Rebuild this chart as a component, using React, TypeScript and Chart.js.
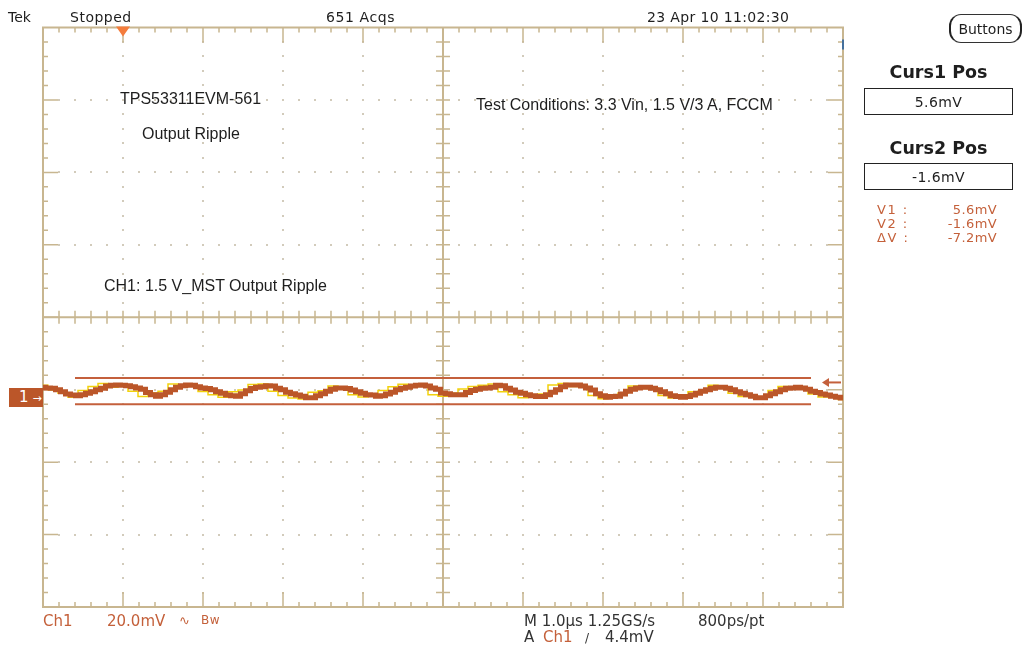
import React, { useEffect, useRef } from 'react';
import { Chart, registerables } from 'chart.js';

Chart.register(...registerables);

// ---- data ----
const SAMPLE_STEP_US = 0.0625; // 5 px per sample at 1 µs/div
const RIPPLE_MV = [
  3.1, 2.9, 2.8, 2.4, 1.8, 1.2, 0.9, 0.7, 1.0, 1.4, 1.8, 2.4, 2.8, 3.4, 3.6, 3.7, 3.6, 3.5, 3.2, 2.9,
  2.5, 1.6, 1.0, 0.6, 1.0, 1.7, 2.4, 3.1, 3.5, 3.7, 3.6, 3.2, 2.9, 2.7, 2.4, 1.8, 1.4, 0.9, 0.7, 0.6,
  1.3, 2.1, 2.7, 3.1, 3.2, 3.5, 3.4, 2.8, 2.4, 1.7, 1.3, 0.9, 0.6, 0.2, 0.2, 0.7, 1.3, 2.0, 2.5, 2.9,
  2.9, 2.7, 2.3, 1.8, 1.4, 1.0, 0.9, 0.6, 0.7, 1.2, 1.7, 2.4, 2.8, 3.1, 3.4, 3.6, 3.7, 3.4, 2.9, 2.5,
  1.5, 1.3, 1.0, 1.0, 1.0, 1.6, 2.2, 2.5, 2.8, 2.9, 3.1, 3.6, 3.5, 2.8, 2.3, 1.7, 1.4, 1.0, 0.7, 0.5,
  0.5, 1.0, 1.7, 2.4, 3.2, 3.7, 3.7, 3.7, 3.4, 2.9, 2.3, 1.3, 0.7, 0.3, 0.5, 0.6, 1.2, 2.0, 2.5, 2.9,
  3.1, 3.1, 2.8, 2.4, 1.8, 1.3, 0.7, 0.5, 0.3, 0.5, 0.9, 1.4, 2.0, 2.4, 2.8, 3.1, 3.1, 2.8, 2.4, 1.8,
  1.4, 1.0, 0.6, 0.2, 0.2, 0.7, 1.3, 1.8, 2.4, 2.8, 2.9, 3.1, 2.9, 2.5, 2.0, 1.6, 1.2, 0.9, 0.6, 0.3,
  0.1,
];
const NOISE_STEP_US = 0.125;
const NOISE_MV = [
  3.6, 2.4, 1.4, 0.3, 2.2, 3.3, 4.1, 3.1, 3.7, 2.0, 0.5, 1.5, 2.0, 4.0, 3.2, 3.4, 1.9, 1.0, 0.3, 1.8,
  2.3, 3.8, 4.0, 2.0, 0.8, 0.1, -0.2, 1.7, 2.1, 3.4, 2.8, 1.0, 0.4, 1.1, 2.2, 3.2, 3.9, 3.3, 3.4, 1.0,
  0.6, 1.4, 2.6, 3.3, 3.6, 4.0, 1.8, 1.0, 0.2, 0.9, 1.2, 3.7, 4.1, 3.3, 3.3, 0.8, -0.1, 1.0, 1.5, 3.4,
  2.7, 2.9, 0.8, 0.1, 0.9, 1.8, 2.0, 3.6, 3.2, 1.4, 0.5, 0.6, 0.3, 2.2, 3.3, 2.7, 2.9, 1.2, 0.4, 0.7,
  -0.3,
];
const CURSOR1_MV = 5.6;
const CURSOR2_MV = -1.6;
const CURSOR_SPAN_US = [0.4, 9.6];
const TRIGGER_LEVEL_MV = 4.4;
const TRIGGER_POS_US = 1;
const X_DIVS_US = [0, 1, 2, 3, 4, 5, 6, 7, 8, 9, 10];
const Y_GRID_MV = [-57.6, -37.6, -17.6, 2.4, 22.4, 42.4, 62.4, 82.4, 102.4];

const READOUT_LABELS = ['V1 :', 'V2 :', 'ΔV :'];
const READOUT_VALUES = ['5.6mV', '-1.6mV', '-7.2mV'];

// ---- styles ----
const TRACE = '#bb5629';
const NOISE = '#f2d20c';
const CURSOR = '#c4603c';
const GRAT = '#c8b690';
const DOT = '#d2cbbb';
const TRIG_MARK = '#f47c3c';
const ORANGE_TXT = '#c4603a';
const SCOPE_FONT = '"DejaVu Sans", sans-serif';
const NOTE_FONT = '"Liberation Sans", Arial, sans-serif';

const graticulePlugin = {
  id: 'graticule',
  beforeDatasetsDraw(chart: any) {
    const { ctx, chartArea: a, scales } = chart;
    const xs = scales.x;
    const ys = scales.y;
    const xp = X_DIVS_US.map((v) => xs.getPixelForValue(v));
    const yp = Y_GRID_MV.map((v) => ys.getPixelForValue(v));
    const nx = xp.length - 1;
    const ny = yp.length - 1;
    const cx = xp[nx / 2];
    const cy = yp[ny / 2];
    ctx.save();
    // dotted grid
    ctx.fillStyle = DOT;
    for (let i = 1; i < nx; i++) {
      if (i === nx / 2) continue;
      for (let j = 0; j < ny; j++) {
        for (let k = 0; k < 5; k++) {
          const y = yp[j] + ((yp[j + 1] - yp[j]) * k) / 5;
          if (j === 0 && k === 0) continue;
          ctx.fillRect(Math.round(xp[i]) - 1, Math.round(y) - 1, 2, 2);
        }
      }
    }
    for (let j = 1; j < ny; j++) {
      if (j === ny / 2) continue;
      for (let i = 0; i < nx; i++) {
        for (let k = 0; k < 5; k++) {
          const x = xp[i] + ((xp[i + 1] - xp[i]) * k) / 5;
          if (i === 0 && k === 0) continue;
          ctx.fillRect(Math.round(x) - 1, Math.round(yp[j]) - 1, 2, 2);
        }
      }
    }
    ctx.strokeStyle = GRAT;
    // border
    ctx.lineWidth = 2;
    ctx.strokeRect(a.left, a.top, a.right - a.left, a.bottom - a.top);
    // center lines
    ctx.beginPath();
    ctx.moveTo(cx, a.top);
    ctx.lineTo(cx, a.bottom);
    ctx.moveTo(a.left, cy);
    ctx.lineTo(a.right, cy);
    ctx.stroke();
    // ticks
    ctx.lineWidth = 1.5;
    ctx.beginPath();
    for (let i = 0; i < nx; i++) {
      for (let k = 0; k < 5; k++) {
        if (i === 0 && k === 0) continue;
        const x = xp[i] + ((xp[i + 1] - xp[i]) * k) / 5;
        const len = k === 0 ? 15 : 5;
        ctx.moveTo(x, a.top);
        ctx.lineTo(x, a.top + len);
        ctx.moveTo(x, a.bottom);
        ctx.lineTo(x, a.bottom - len);
        if (!(k === 0 && i === nx / 2)) {
          ctx.moveTo(x, cy - 6.5);
          ctx.lineTo(x, cy + 6.5);
        }
      }
    }
    for (let j = 0; j < ny; j++) {
      for (let k = 0; k < 5; k++) {
        if (j === 0 && k === 0) continue;
        const y = yp[j] + ((yp[j + 1] - yp[j]) * k) / 5;
        const len = k === 0 ? 15 : 5;
        ctx.moveTo(a.left, y);
        ctx.lineTo(a.left + len, y);
        ctx.moveTo(a.right, y);
        ctx.lineTo(a.right - len, y);
        if (!(k === 0 && j === ny / 2)) {
          ctx.moveTo(cx - 7, y);
          ctx.lineTo(cx + 7, y);
        }
      }
    }
    ctx.stroke();
    // small mark at the right border
    ctx.fillStyle = '#44709c';
    ctx.fillRect(a.right - 1, a.top + 12, 2, 10);
    ctx.restore();
  },
  afterDatasetsDraw(chart: any) {
    const { ctx, chartArea: a, scales } = chart;
    const tx = scales.x.getPixelForValue(TRIGGER_POS_US);
    ctx.save();
    // trigger position marker
    ctx.fillStyle = TRIG_MARK;
    ctx.beginPath();
    ctx.moveTo(tx - 7, a.top - 1);
    ctx.lineTo(tx + 7, a.top - 1);
    ctx.lineTo(tx, a.top + 9);
    ctx.closePath();
    ctx.fill();
    // trigger level arrow
    const ty = scales.y.getPixelForValue(TRIGGER_LEVEL_MV);
    ctx.strokeStyle = CURSOR;
    ctx.fillStyle = CURSOR;
    ctx.lineWidth = 2;
    ctx.beginPath();
    ctx.moveTo(a.right - 2, ty);
    ctx.lineTo(a.right - 17, ty);
    ctx.stroke();
    ctx.beginPath();
    ctx.moveTo(a.right - 21, ty);
    ctx.lineTo(a.right - 14, ty - 4.5);
    ctx.lineTo(a.right - 14, ty + 4.5);
    ctx.closePath();
    ctx.fill();
    ctx.restore();
  },
};

function T(props: { children: any; left: number; cy: number; size: number; style?: any }) {
  const { children, left, cy, size, style } = props;
  return (
    <div
      style={{
        position: 'absolute',
        left,
        top: cy - size / 2,
        fontSize: size,
        lineHeight: `${size}px`,
        whiteSpace: 'nowrap',
        fontFamily: SCOPE_FONT,
        color: '#1e1e1e',
        ...style,
      }}
    >
      {children}
    </div>
  );
}

export default function App() {
  const canvasRef = useRef<HTMLCanvasElement | null>(null);

  useEffect(() => {
    const canvas = canvasRef.current;
    if (!canvas) return;
    const chart = new Chart(canvas, {
      type: 'line',
      data: {
        datasets: [
          {
            label: 'Cursor 1',
            data: CURSOR_SPAN_US.map((t) => ({ x: t, y: CURSOR1_MV })),
            borderColor: CURSOR,
            borderWidth: 2,
            pointRadius: 0,
            order: 0,
          },
          {
            label: 'Cursor 2',
            data: CURSOR_SPAN_US.map((t) => ({ x: t, y: CURSOR2_MV })),
            borderColor: CURSOR,
            borderWidth: 2,
            pointRadius: 0,
            order: 0,
          },
          {
            label: 'CH1',
            data: RIPPLE_MV.map((v, i) => ({ x: i * SAMPLE_STEP_US, y: v })),
            borderColor: TRACE,
            borderWidth: 5,
            stepped: 'middle',
            pointRadius: 0,
            order: 1,
          },
          {
            label: 'CH1 persistence',
            data: NOISE_MV.map((v, i) => ({ x: i * NOISE_STEP_US, y: v })),
            borderColor: NOISE,
            borderWidth: 1.5,
            stepped: 'middle',
            pointRadius: 0,
            order: 2,
          },
        ],
      },
      options: {
        animation: false,
        responsive: false,
        events: [],
        layout: { padding: { left: 43, right: 183, top: 27.5, bottom: 39 } },
        scales: {
          x: { type: 'linear', min: 0, max: 10, display: false },
          y: { type: 'linear', min: Y_GRID_MV[0], max: Y_GRID_MV[Y_GRID_MV.length - 1], display: false },
        },
        plugins: { legend: { display: false }, tooltip: { enabled: false } },
      } as any,
      plugins: [graticulePlugin as any],
    });
    return () => chart.destroy();
  }, []);

  return (
    <div
      style={{
        position: 'absolute',
        left: 0,
        top: 0,
        width: 1026,
        height: 646,
        background: '#fff',
        overflow: 'hidden',
      }}
    >
      <canvas ref={canvasRef} width={1026} height={646} style={{ position: 'absolute', left: 0, top: 0 }} />

      {/* top status line */}
      <T left={8} cy={16.5} size={14}>Tek</T>
      <T left={70} cy={16.5} size={14} style={{ letterSpacing: 0.5 }}>Stopped</T>
      <T left={326} cy={16.5} size={14} style={{ letterSpacing: 0.6 }}>651 Acqs</T>
      <T left={647} cy={16.5} size={14} style={{ letterSpacing: 0.35 }}>23 Apr 10 11:02:30</T>
      <div
        style={{
          position: 'absolute',
          left: 949,
          top: 14,
          width: 73,
          height: 29,
          boxSizing: 'border-box',
          border: '1px solid #333',
          borderLeft: '2px solid #222',
          borderRight: '2px solid #222',
          borderRadius: 12,
          display: 'flex',
          alignItems: 'center',
          justifyContent: 'center',
          fontFamily: SCOPE_FONT,
          fontSize: 14,
          color: '#1e1e1e',
        }}
      >
        Buttons
      </div>

      {/* right panel */}
      <div style={{ position: 'absolute', left: 864, top: 63, width: 149, textAlign: 'center', fontFamily: SCOPE_FONT, fontWeight: 'bold', fontSize: 17.5, lineHeight: '18px', color: '#1e1e1e' }}>
        Curs1 Pos
      </div>
      <div style={{ position: 'absolute', left: 864, top: 88, width: 149, height: 27, boxSizing: 'border-box', border: '1.5px solid #222', display: 'flex', alignItems: 'center', justifyContent: 'center', fontFamily: SCOPE_FONT, fontSize: 14, letterSpacing: 0.4, color: '#1e1e1e' }}>
        5.6mV
      </div>
      <div style={{ position: 'absolute', left: 864, top: 138.5, width: 149, textAlign: 'center', fontFamily: SCOPE_FONT, fontWeight: 'bold', fontSize: 17.5, lineHeight: '18px', color: '#1e1e1e' }}>
        Curs2 Pos
      </div>
      <div style={{ position: 'absolute', left: 864, top: 163, width: 149, height: 27, boxSizing: 'border-box', border: '1.5px solid #222', display: 'flex', alignItems: 'center', justifyContent: 'center', fontFamily: SCOPE_FONT, fontSize: 14, letterSpacing: 0.4, color: '#1e1e1e' }}>
        -1.6mV
      </div>
      {READOUT_LABELS.map((lab, i) => (
        <React.Fragment key={lab}>
          <T left={877} cy={209 + i * 14.3} size={13} style={{ color: ORANGE_TXT, letterSpacing: 1.5 }}>
            {lab}
          </T>
          <div
            style={{
              position: 'absolute',
              left: 900,
              width: 97,
              textAlign: 'right',
              top: 209 + i * 14.3 - 6.5,
              fontSize: 13,
              lineHeight: '13px',
              fontFamily: SCOPE_FONT,
              color: ORANGE_TXT,
              letterSpacing: 0.4,
            }}
          >
            {READOUT_VALUES[i]}
          </div>
        </React.Fragment>
      ))}

      {/* annotations in the graticule */}
      <T left={120} cy={99} size={16} style={{ fontFamily: NOTE_FONT }}>TPS53311EVM-561</T>
      <T left={142} cy={134} size={16} style={{ fontFamily: NOTE_FONT }}>Output Ripple</T>
      <T left={476} cy={105} size={16} style={{ fontFamily: NOTE_FONT }}>Test Conditions: 3.3 Vin, 1.5 V/3 A, FCCM</T>
      <T left={104} cy={286} size={16} style={{ fontFamily: NOTE_FONT }}>CH1: 1.5 V_MST Output Ripple</T>

      {/* channel marker */}
      <div
        style={{
          position: 'absolute',
          left: 9,
          top: 388,
          width: 34,
          height: 19,
          background: TRACE,
          color: '#fff',
          fontFamily: SCOPE_FONT,
          fontSize: 15,
          lineHeight: '19px',
          whiteSpace: 'nowrap',
        }}
      >
        <span style={{ marginLeft: 10 }}>1</span>
        <span style={{ marginLeft: 4, fontSize: 11 }}>→</span>
      </div>

      {/* bottom status lines */}
      <T left={43} cy={621} size={15} style={{ color: ORANGE_TXT }}>Ch1</T>
      <T left={107} cy={621} size={15} style={{ color: ORANGE_TXT }}>20.0mV</T>
      <T left={179} cy={620} size={13} style={{ color: ORANGE_TXT }}>∿</T>
      <T left={201} cy={620} size={12} style={{ color: ORANGE_TXT, letterSpacing: 0.5 }}>Bw</T>
      <T left={524} cy={621} size={15} style={{ color: '#333' }}>M 1.0µs 1.25GS/s</T>
      <T left={698} cy={621} size={15} style={{ color: '#333' }}>800ps/pt</T>
      <T left={524} cy={637.5} size={15} style={{ color: '#333' }}>A</T>
      <T left={543} cy={637.5} size={15} style={{ color: ORANGE_TXT }}>Ch1</T>
      <T left={585} cy={638} size={12} style={{ color: '#333' }}>/</T>
      <T left={605} cy={637.5} size={15} style={{ color: '#333' }}>4.4mV</T>
    </div>
  );
}
